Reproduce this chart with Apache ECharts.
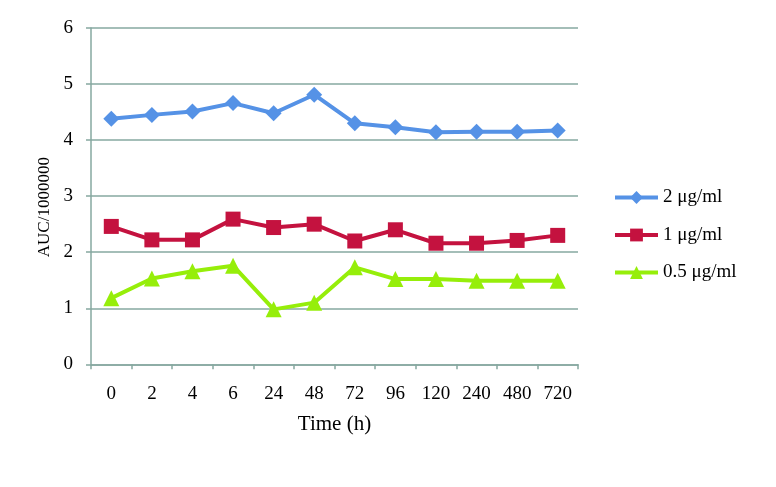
<!DOCTYPE html>
<html>
<head>
<meta charset="utf-8">
<script src="https://cdn.jsdelivr.net/npm/echarts@6/dist/echarts.min.js"></script>
<style>html,body{margin:0;padding:0;background:#fff;}#c{width:776px;height:487px;}</style>
</head>
<body>
<div id="c"></div>
<script>
var categories = ['0','2','4','6','24','48','72','96','120','240','480','720'];
var s2 = [4.38,4.45,4.51,4.66,4.48,4.81,4.30,4.23,4.14,4.15,4.15,4.17];
var s1 = [2.46,2.22,2.22,2.59,2.44,2.50,2.20,2.40,2.16,2.16,2.21,2.30];
var s05 = [1.18,1.53,1.66,1.76,0.98,1.10,1.73,1.52,1.52,1.49,1.49,1.49];
var yTicks = [0,1,2,3,4,5,6];
var names = ['2 μg/ml','1 μg/ml','0.5 μg/ml'];

var FONT = 'Liberation Serif';
var axisColor = '#86A8A0';
var chart = echarts.init(document.getElementById('c'), null, {renderer:'canvas'});
function ser(name, data, color, symbol, size){
  return {name:name, type:'line', data:data, symbol:symbol, symbolSize:size,
    lineStyle:{color:color,width:4}, itemStyle:{color:color}, animation:false};
}
chart.setOption({
  animation:false,
  grid:{left:91, right:198, top:28, bottom:122.7, containLabel:false},
  legend:{orient:'vertical', left:608, top:183, itemWidth:43, itemHeight:16, itemGap:18.5,
    lineStyle:{width:4},
    textStyle:{fontFamily:FONT, fontSize:19, color:'#000', lineHeight:14},
    data:names},
  xAxis:{type:'category', data:categories, boundaryGap:true,
    name:'Time (h)', nameLocation:'middle', nameGap:50,
    nameTextStyle:{fontFamily:FONT, fontSize:21, color:'#000'},
    axisLine:{lineStyle:{color:axisColor,width:1.5}},
    axisTick:{show:true, length:5, inside:false, lineStyle:{color:axisColor,width:1.5}, alignWithLabel:false},
    axisLabel:{fontFamily:FONT, fontSize:19, color:'#000', margin:20, interval:0},
    splitLine:{show:false}},
  yAxis:{type:'value', min:yTicks[0], max:yTicks[yTicks.length-1], interval:1,
    name:'AUC/1000000', nameLocation:'middle', nameGap:38, nameRotate:90,
    nameTextStyle:{fontFamily:FONT, fontSize:17, color:'#000', padding:[0,22,0,0]},
    axisLine:{show:true, lineStyle:{color:axisColor,width:1.5}},
    axisTick:{show:true, length:5, inside:false, lineStyle:{color:axisColor,width:1.5}},
    axisLabel:{fontFamily:FONT, fontSize:19, color:'#000', margin:18},
    splitLine:{show:true, lineStyle:{color:axisColor,width:1.5}}},
  series:[
    ser(names[0], s2, '#5592E6', 'diamond', 16),
    ser(names[1], s1, '#C4123F', 'rect', 15),
    ser(names[2], s05, '#96EE0A', 'triangle', 16)
  ]
});
</script>
</body>
</html>
